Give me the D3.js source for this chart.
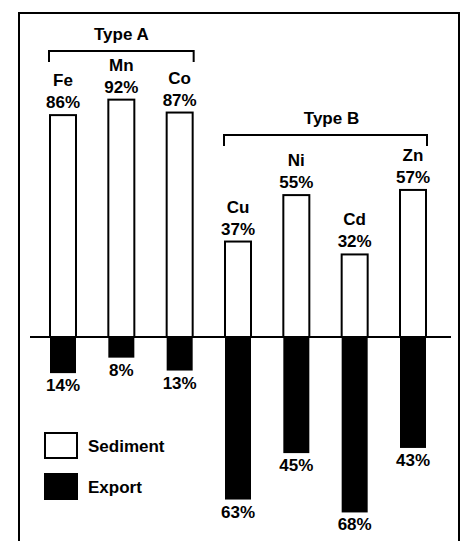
<!DOCTYPE html>
<html>
<head>
<meta charset="utf-8">
<script src="https://cdn.jsdelivr.net/npm/d3@7"></script>
<style>
  body { margin: 0; background: #fff; }
  text { font-family: "Liberation Sans", Arial, sans-serif; font-weight: bold; fill: #000; }
</style>
</head>
<body>
<div id="chart"></div>
<script>
// data
const elements = ['Fe', 'Mn', 'Co', 'Cu', 'Ni', 'Cd', 'Zn'];
const sediment = [86, 92, 87, 37, 55, 32, 57];
const exportPct = [14, 8, 13, 63, 45, 68, 43];
const groups = [
  {name: 'Type A', from: 'Fe', to: 'Co'},
  {name: 'Type B', from: 'Cu', to: 'Zn'}
];
const legendItems = ['Sediment', 'Export'];

const width = 464;
const height = 541;
const baseY = 337;
const barW = 26;
const fs = 17;

const svg = d3.select('#chart').append('svg')
    .attr('width', width)
    .attr('height', height);

// frame, open at the bottom
svg.append('path')
    .attr('d', 'M19,541 V13 H459 V541')
    .attr('fill', 'none')
    .attr('stroke', '#000')
    .attr('stroke-width', 2);

const x = d3.scalePoint().domain(elements).range([63, 413]);
const y = d3.scaleLinear().domain([-100, 100]).range([baseY + 258, baseY - 258]);

const data = elements.map((el, i) => ({el: el, sed: sediment[i], exp: exportPct[i]}));

// sediment bars (up)
svg.selectAll('.sed')
    .data(data)
    .enter()
    .append('rect')
    .attr('class', 'sed')
    .attr('x', (d) => x(d.el) - barW / 2)
    .attr('y', (d) => y(d.sed))
    .attr('width', barW)
    .attr('height', (d) => y(0) - y(d.sed))
    .attr('fill', '#fff')
    .attr('stroke', '#000')
    .attr('stroke-width', 2);

// export bars (down)
svg.selectAll('.exp')
    .data(data)
    .enter()
    .append('rect')
    .attr('class', 'exp')
    .attr('x', (d) => x(d.el) - barW / 2)
    .attr('y', y(0))
    .attr('width', barW)
    .attr('height', (d) => y(-d.exp) - y(0))
    .attr('fill', '#000');

// baseline
svg.append('line')
    .attr('x1', 30).attr('x2', 451)
    .attr('y1', baseY).attr('y2', baseY)
    .attr('stroke', '#000')
    .attr('stroke-width', 2);

// labels
const labels = svg.selectAll('.lab')
    .data(data)
    .enter()
    .append('g')
    .attr('class', 'lab');
labels.append('text')
    .attr('x', (d) => x(d.el))
    .attr('y', (d) => y(d.sed) - 29)
    .attr('text-anchor', 'middle')
    .attr('font-size', fs)
    .text((d) => d.el);
labels.append('text')
    .attr('x', (d) => x(d.el))
    .attr('y', (d) => y(d.sed) - 7)
    .attr('text-anchor', 'middle')
    .attr('font-size', fs)
    .text((d) => d.sed + '%');
labels.append('text')
    .attr('x', (d) => x(d.el))
    .attr('y', (d) => y(-d.exp) + 18)
    .attr('text-anchor', 'middle')
    .attr('font-size', fs)
    .text((d) => d.exp + '%');

// group brackets
const bracketY = [51, 135];
groups.forEach((g, i) => {
  const x1 = x(g.from) - barW / 2 - 1;
  const x2 = x(g.to) + barW / 2 + 1;
  const by = bracketY[i];
  svg.append('path')
      .attr('d', `M${x1},${by + 11} V${by} H${x2} V${by + 11}`)
      .attr('fill', 'none')
      .attr('stroke', '#000')
      .attr('stroke-width', 2);
  svg.append('text')
      .attr('x', (x1 + x2) / 2 + (i === 1 ? 6 : 0))
      .attr('y', by - 11)
      .attr('text-anchor', 'middle')
      .attr('font-size', fs)
      .text(g.name);
});

// legend
const legend = svg.selectAll('.leg')
    .data(legendItems)
    .enter()
    .append('g')
    .attr('transform', (d, i) => 'translate(45,' + (433 + i * 41) + ')');
legend.append('rect')
    .attr('width', 32)
    .attr('height', 25)
    .attr('fill', (d, i) => i === 0 ? '#fff' : '#000')
    .attr('stroke', '#000')
    .attr('stroke-width', 2);
legend.append('text')
    .attr('x', 43)
    .attr('y', 19)
    .attr('font-size', fs)
    .text((d) => d);
</script>
</body>
</html>
